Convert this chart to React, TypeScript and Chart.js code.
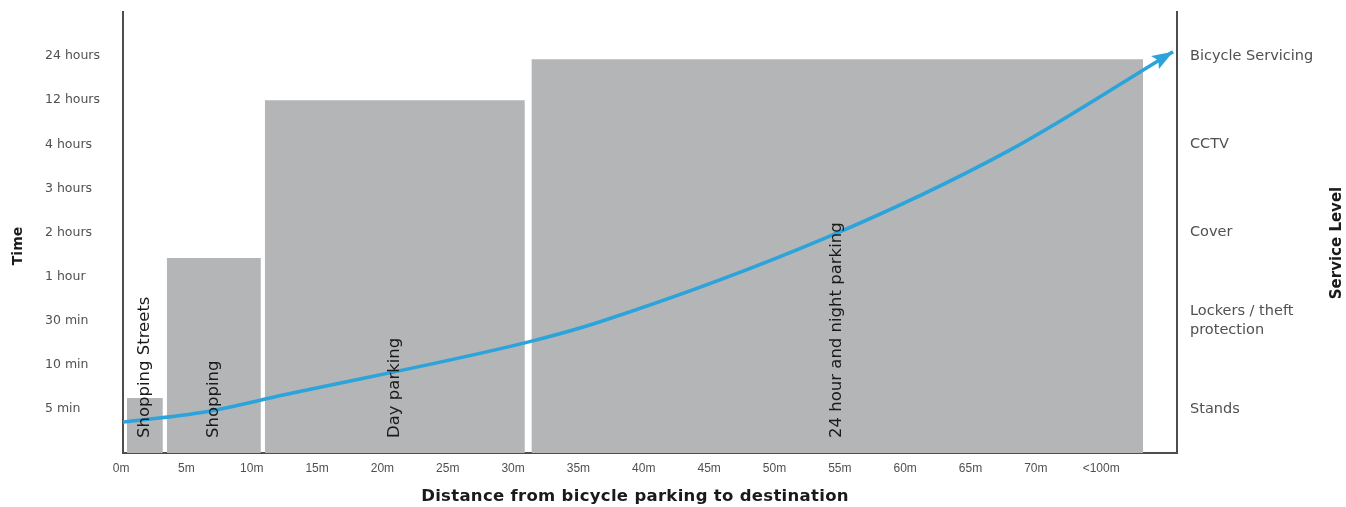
import { useEffect, useRef } from 'react';
import { Chart, registerables } from 'chart.js';

Chart.register(...registerables);

const FONT = '"DejaVu Sans", Verdana, sans-serif';
const FONT_ARIAL = '"Liberation Sans", Arial, Helvetica, sans-serif';

// Left axis: time categories (index 1..9)
const timeLabels = ['5 min', '10 min', '30 min', '1 hour', '2 hours', '3 hours', '4 hours', '12 hours', '24 hours'];
const timeTickValues = [1, 2, 3, 4, 5, 6, 7, 8, 9];

// Right axis: service levels
const serviceLevels: (string | string[])[] = ['Stands', ['Lockers / theft', 'protection'], 'Cover', 'CCTV', 'Bicycle Servicing'];
const serviceTickValues = [1, 3, 5, 7, 9];

// Bottom axis: distance
const distanceLabels = ['0m', '5m', '10m', '15m', '20m', '25m', '30m', '35m', '40m', '45m', '50m', '55m', '60m', '65m', '70m', '<100m'];
const distanceTickValues = [0, 5, 10, 15, 20, 25, 30, 35, 40, 45, 50, 55, 60, 65, 70, 75];

// Parking zones (distance span, time reached)
const zoneNames = ['Shopping Streets', 'Shopping', 'Day parking', '24 hour and night parking'];
const zoneStart = [0.45, 3.5, 11.0, 31.4];
const zoneEnd = [3.2, 10.7, 30.9, 78.2];
const zoneTime = [1.25, 4.42, 8.0, 8.93];

// Service level curve
const curveX = [0.15, 6.4, 12.5, 31.2, 36.6, 54.1, 67.9, 80.5];
const curveY = [0.7, 0.93, 1.32, 2.52, 2.97, 4.9, 6.85, 9.1];

const ZONE_COLOR = '#b3b5b7';
const BLUE = '#2ba3db';
const AXIS_COLOR = '#4d4d4d';
const TICK_COLOR = '#505050';

export default function App() {
  const ref = useRef<HTMLCanvasElement>(null);

  useEffect(() => {
    const canvas = ref.current;
    if (!canvas) return;

    const zoneDatasets = zoneNames.map((name, i) => ({
      label: name,
      data: [
        { x: zoneStart[i], y: 0 },
        { x: zoneStart[i], y: zoneTime[i] },
        { x: zoneEnd[i], y: zoneTime[i] },
        { x: zoneEnd[i], y: 0 },
      ],
      borderWidth: 0,
      borderColor: 'rgba(0,0,0,0)',
      backgroundColor: ZONE_COLOR,
      fill: 'origin',
      pointRadius: 0,
      pointHoverRadius: 0,
      tension: 0,
      order: 2,
    }));

    const curveIndex = zoneDatasets.length;
    const curveDataset = {
      label: 'Service level',
      data: curveX.map((x, i) => ({ x, y: curveY[i] })),
      borderColor: BLUE,
      borderWidth: 3.5,
      borderCapStyle: 'butt',
      pointRadius: 0,
      pointHoverRadius: 0,
      fill: false,
      cubicInterpolationMode: 'monotone',
      order: 0,
      clip: false,
    };

    const annotations = {
      id: 'annotations',
      afterDatasetsDraw(chart: any) {
        const { ctx, scales } = chart;
        const x = scales.x;
        const y = scales.y;
        // arrowhead at the end of the curve
        const pts = chart.getDatasetMeta(curveIndex).data;
        const tip = pts[pts.length - 1];
        const prev = pts[pts.length - 2];
        let fx = tip.cp1x ?? prev.x;
        let fy = tip.cp1y ?? prev.y;
        if (Math.hypot(tip.x - fx, tip.y - fy) < 1) { fx = prev.x; fy = prev.y; }
        const ang = Math.atan2(tip.y - fy, tip.x - fx);
        const len = 21;
        const half = 7.5;
        ctx.save();
        ctx.translate(tip.x, tip.y);
        ctx.rotate(ang);
        ctx.beginPath();
        ctx.moveTo(0, 0);
        ctx.lineTo(-len, -half);
        ctx.lineTo(-len * 0.82, 0);
        ctx.lineTo(-len, half);
        ctx.closePath();
        ctx.fillStyle = BLUE;
        ctx.fill();
        ctx.restore();

        // zone labels (vertical)
        ctx.save();
        ctx.fillStyle = '#1a1a1a';
        ctx.font = `16.5px ${FONT}`;
        ctx.textAlign = 'left';
        ctx.textBaseline = 'middle';
        zoneNames.forEach((name, i) => {
          const cx = x.getPixelForValue((zoneStart[i] + zoneEnd[i]) / 2);
          const by = y.getPixelForValue(0) - 15;
          ctx.save();
          ctx.translate(cx, by);
          ctx.rotate(-Math.PI / 2);
          ctx.fillText(name, 0, 0);
          ctx.restore();
        });
        ctx.restore();
      },
      afterDraw(chart: any) {
        const { ctx } = chart;
        ctx.save();
        ctx.fillStyle = '#1a1a1a';
        ctx.textAlign = 'center';
        ctx.textBaseline = 'middle';
        ctx.font = `bold 14px ${FONT}`;
        ctx.save();
        ctx.translate(18, 246);
        ctx.rotate(-Math.PI / 2);
        ctx.fillText('Time', 0, 0);
        ctx.restore();
        ctx.font = `bold 15px ${FONT}`;
        ctx.save();
        ctx.translate(1337, 243);
        ctx.rotate(-Math.PI / 2);
        ctx.fillText('Service Level', 0, 0);
        ctx.restore();
        ctx.font = `bold 16.5px ${FONT}`;
        (ctx as any).letterSpacing = '0.3px';
        ctx.fillText('Distance from bicycle parking to destination', 635, 497);
        ctx.restore();
      },
    };

    const noPad = (scale: any) => {
      scale.paddingTop = 0;
      scale.paddingBottom = 0;
      scale.paddingLeft = 0;
      scale.paddingRight = 0;
    };

    const chart = new Chart(canvas, {
      type: 'line',
      data: { datasets: [...zoneDatasets, curveDataset] as any },
      options: {
        animation: false,
        responsive: false,
        maintainAspectRatio: false,
        events: [],
        layout: { padding: { left: 45, right: 0, top: 12, bottom: 0 } },
        plugins: {
          legend: { display: false },
          tooltip: { enabled: false },
          title: { display: false },
        },
        scales: {
          x: {
            type: 'linear',
            position: 'bottom',
            min: 0.15,
            max: 80.8,
            grid: { display: false, drawTicks: false },
            border: { display: true, color: AXIS_COLOR, width: 2 },
            afterBuildTicks: (scale: any) => {
              scale.ticks = distanceTickValues.map((v) => ({ value: v }));
            },
            afterFit: (scale: any) => {
              scale.height = 54;
              noPad(scale);
            },
            ticks: {
              autoSkip: false,
              maxRotation: 0,
              minRotation: 0,
              padding: 8,
              color: TICK_COLOR,
              font: { family: FONT_ARIAL, size: 12 },
              callback: (v: any) => distanceLabels[distanceTickValues.indexOf(Number(v))] ?? '',
            },
          },
          y: {
            type: 'linear',
            position: 'left',
            min: 0,
            max: 10,
            grid: { display: false, drawTicks: false },
            border: { display: true, color: AXIS_COLOR, width: 2 },
            afterBuildTicks: (scale: any) => {
              scale.ticks = timeTickValues.map((v) => ({ value: v }));
            },
            afterFit: (scale: any) => {
              scale.width = 78;
              noPad(scale);
            },
            ticks: {
              autoSkip: false,
              crossAlign: 'far',
              color: TICK_COLOR,
              font: { family: FONT, size: 12.5 },
              callback: (v: any) => timeLabels[timeTickValues.indexOf(Number(v))] ?? '',
            },
          },
          y2: {
            type: 'linear',
            position: 'right',
            min: 0,
            max: 10,
            grid: { display: false, drawTicks: false },
            border: { display: true, color: AXIS_COLOR, width: 2 },
            afterBuildTicks: (scale: any) => {
              scale.ticks = serviceTickValues.map((v) => ({ value: v }));
            },
            afterFit: (scale: any) => {
              scale.width = 169;
              noPad(scale);
            },
            ticks: {
              autoSkip: false,
              padding: 13,
              crossAlign: 'near',
              color: TICK_COLOR,
              font: { family: FONT, size: 14.5, lineHeight: 1.35 },
              callback: (v: any) => serviceLevels[serviceTickValues.indexOf(Number(v))] ?? '',
            },
          },
        },
      } as any,
      plugins: [annotations],
    });

    return () => chart.destroy();
  }, []);

  return (
    <div style={{ position: 'fixed', left: 0, top: 0, width: 1346, height: 507, background: '#ffffff' }}>
      <canvas ref={ref} width={1346} height={507} style={{ display: 'block', width: 1346, height: 507 }} />
    </div>
  );
}
